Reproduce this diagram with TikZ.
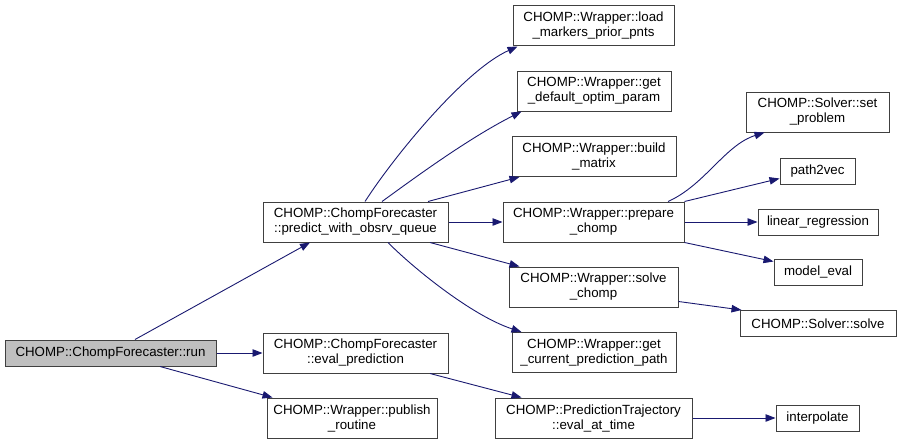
\documentclass[tikz,border=0pt]{standalone}
\usepackage{fontspec}
\setmainfont{Liberation Sans}
\usetikzlibrary{arrows.meta}
\definecolor{edgeblue}{HTML}{191970}
\definecolor{boxline}{HTML}{404040}
\definecolor{runfill}{HTML}{BFBFBF}
\begin{document}
\begin{tikzpicture}[x=1pt,y=-1pt,
  box/.style={draw=boxline, line width=1pt, fill=white, inner sep=0pt, align=center,
              font=\fontsize{13.3}{15}\selectfont},
  conn/.style={draw=edgeblue, line width=0.9pt, -{Triangle[length=10pt,width=7.5pt]}}]
\useasboundingbox (0,0) rectangle (901,444);
% nodes
\node[box, fill=runfill, minimum width=211pt, minimum height=26pt] (run) at (110.5,353) {CHOMP::ChompForecaster::run};
\node[box, minimum width=185pt, minimum height=40pt] (predict) at (355.5,222) {CHOMP::ChompForecaster\\::predict\_with\_obsrv\_queue};
\node[box, minimum width=185pt, minimum height=40pt] (evalpred) at (355.5,353) {CHOMP::ChompForecaster\\::eval\_prediction};
\node[box, minimum width=170pt, minimum height=40pt] (publish) at (352,418) {CHOMP::Wrapper::publish\\\_routine};
\node[box, minimum width=161pt, minimum height=40pt] (load) at (593.5,26) {CHOMP::Wrapper::load\\\_markers\_prior\_pnts};
\node[box, minimum width=154pt, minimum height=40pt] (getdef) at (594,91) {CHOMP::Wrapper::get\\\_default\_optim\_param};
\node[box, minimum width=164pt, minimum height=40pt] (build) at (594,156.5) {CHOMP::Wrapper::build\\\_matrix};
\node[box, minimum width=181pt, minimum height=40pt] (prepare) at (593.5,222) {CHOMP::Wrapper::prepare\\\_chomp};
\node[box, minimum width=169pt, minimum height=40pt] (solvechomp) at (593.5,287) {CHOMP::Wrapper::solve\\\_chomp};
\node[box, minimum width=164pt, minimum height=40pt] (getcur) at (594,352.5) {CHOMP::Wrapper::get\\\_current\_prediction\_path};
\node[box, minimum width=197pt, minimum height=40pt] (evalat) at (593.5,418) {CHOMP::PredictionTrajectory\\::eval\_at\_time};
\node[box, minimum width=143pt, minimum height=40pt] (setprob) at (817.5,112) {CHOMP::Solver::set\\\_problem};
\node[box, minimum width=75pt, minimum height=26pt] (path2vec) at (817.5,171) {path2vec};
\node[box, minimum width=120pt, minimum height=26pt] (linreg) at (818,222) {linear\_regression};
\node[box, minimum width=88pt, minimum height=26pt] (model) at (818,272) {model\_eval};
\node[box, minimum width=156pt, minimum height=26pt] (solve) at (818,323.5) {CHOMP::Solver::solve};
\node[box, minimum width=83pt, minimum height=26pt] (interp) at (817.5,418) {interpolate};
% connectors
\draw[conn] ([xshift=24.5pt]run.north) -- ([xshift=-45.5pt]predict.south);
\draw[conn] (run.east) -- (evalpred.west);
\draw[conn] ([xshift=49.5pt]run.south) -- ([xshift=6pt]publish.north west);
\draw[conn] ([xshift=9.5pt]predict.north) .. controls (395,155) and (465,70) .. ([xshift=5pt]load.south west);
\draw[conn] ([xshift=26.5pt]predict.north) .. controls (405,185) and (465,140) .. ([xshift=5pt]getdef.south west);
\draw[conn] ([xshift=72.5pt]predict.north) -- ([xshift=8pt]build.south west);
\draw[conn] (predict.east) -- (prepare.west);
\draw[conn] ([xshift=74.5pt]predict.south) -- ([xshift=11pt]solvechomp.north west);
\draw[conn] ([xshift=32.5pt]predict.south) .. controls (410,265) and (470,315) .. ([xshift=10pt]getcur.north west);
\draw[conn] ([xshift=74.5pt]evalpred.south) -- ([xshift=27pt]evalat.north west);
\draw[conn] (evalat.east) -- (interp.west);
\draw[conn] ([xshift=74.5pt]prepare.north) .. controls (705,185) and (725,145) .. ([xshift=19pt]setprob.south west);
\draw[conn] (prepare.north east) -- ([yshift=6pt]path2vec.south west);
\draw[conn] (prepare.east) -- (linreg.west);
\draw[conn] (prepare.south east) -- ([yshift=-3pt]model.north west);
\draw[conn] ([yshift=6pt]solvechomp.south east) -- ([xshift=2pt]solve.north west);
\end{tikzpicture}
\end{document}
